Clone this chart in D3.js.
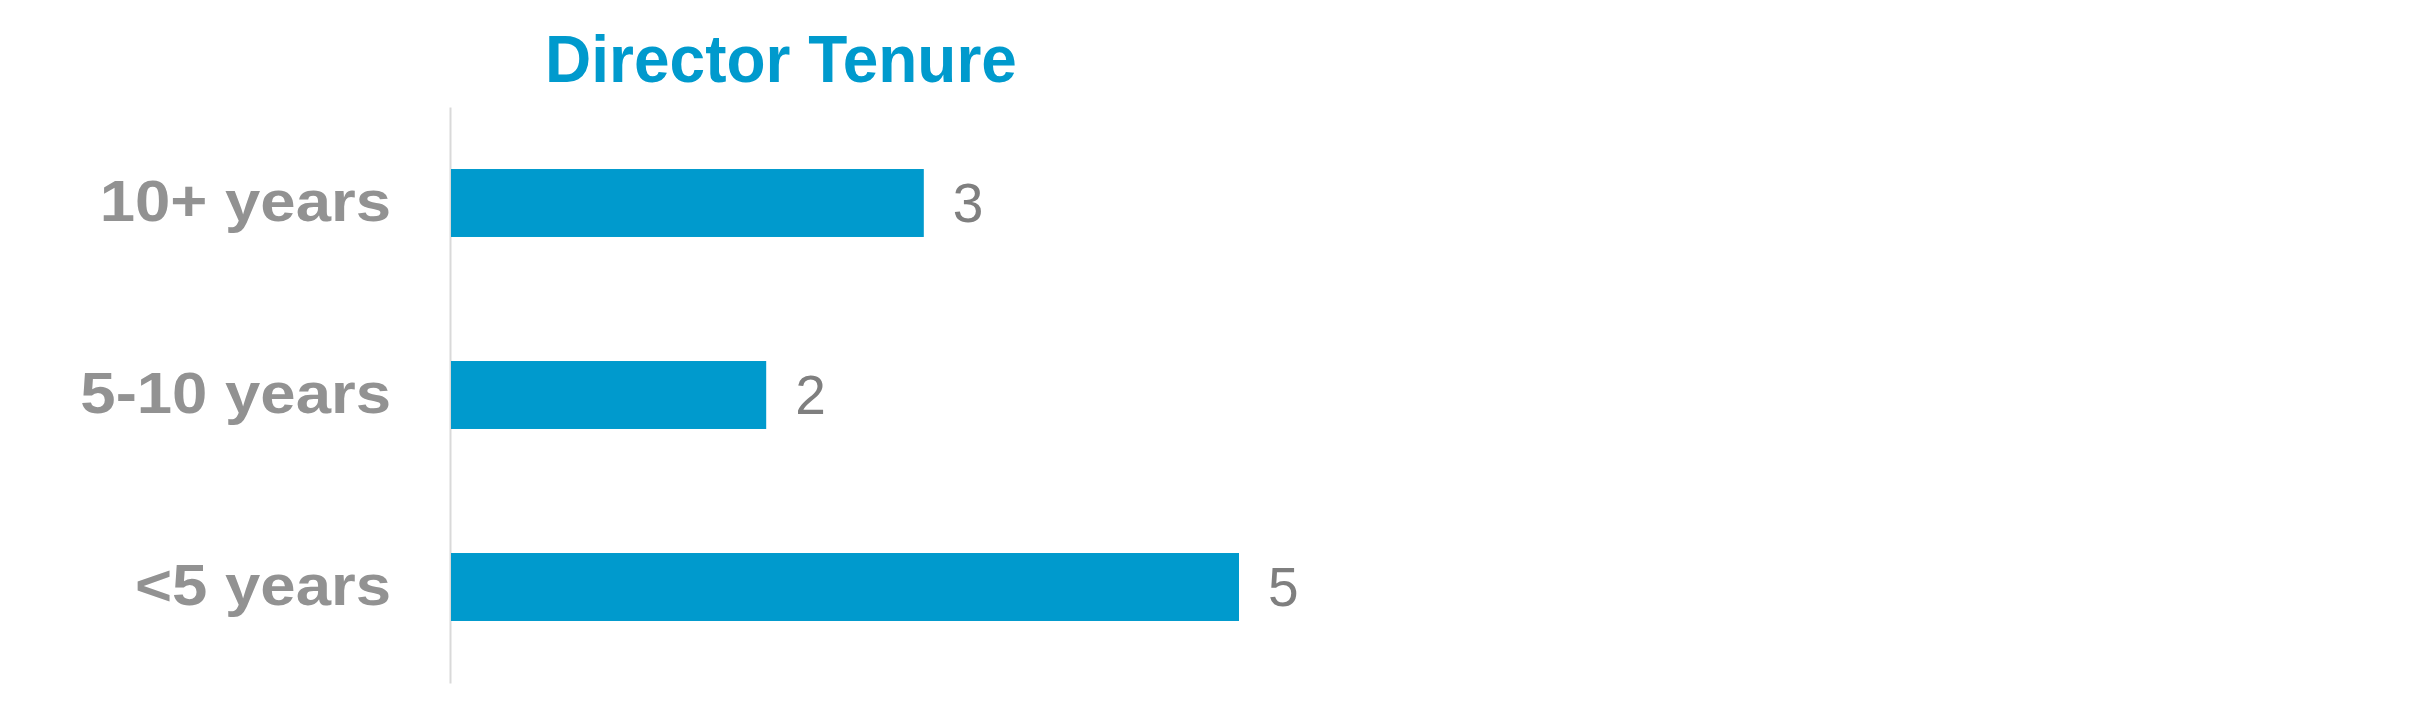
<!DOCTYPE html>
<html>
<head>
<meta charset="utf-8">
<script src="https://cdn.jsdelivr.net/npm/d3@7"></script>
<style>
  html, body { margin: 0; padding: 0; background: #fff; }
  svg { display: block; font-family: "Liberation Sans", Arial, sans-serif; }
</style>
</head>
<body>
<div id="chart"></div>
<script>
// chart data
var categories = ["10+ years", "5-10 years", "<5 years"];
var values = [3, 2, 5];
var title = "Director Tenure";

var svgWidth = 2421;
var svgHeight = 704;

var blue = "#009acd";

var svg = d3.select("#chart")
  .append("svg")
  .attr("width", svgWidth)
  .attr("height", svgHeight);

var rows = categories.map(function(c, i) {
  return { cat: c, value: values[i] };
});

// scales
var yBand = d3.scaleBand()
  .domain(categories)
  .range([107, 683])
  .paddingInner(0.646)
  .paddingOuter(0.323);

var xLinear = d3.scaleLinear()
  .domain([0, 5])
  .range([451, 1239]);

// left axis: light vertical line + bold category labels
var leftAxis = d3.axisLeft(yBand)
  .tickSizeInner(0)
  .tickSizeOuter(0)
  .tickPadding(59);

var axisG = svg.append("g")
  .attr("transform", "translate(450, 0)")
  .call(leftAxis);

axisG.select(".domain")
  .attr("stroke", "#d9d9d9")
  .attr("stroke-width", 2);

axisG.selectAll(".tick text")
  .attr("x", null)
  .attr("dy", null)
  .attr("transform", "translate(-59, 18) scale(1.095, 1)")
  .attr("text-anchor", "end")
  .attr("fill", "#929292")
  .style("font-family", "'Liberation Sans', Arial, sans-serif")
  .style("font-size", "58px")
  .style("font-weight", "bold");

// bars
svg.selectAll("rect.bar")
  .data(rows)
  .enter()
  .append("rect")
  .attr("class", "bar")
  .attr("x", xLinear(0))
  .attr("y", d => yBand(d.cat))
  .attr("width", d => xLinear(d.value) - xLinear(0))
  .attr("height", yBand.bandwidth())
  .attr("fill", blue);

// value labels
svg.selectAll("text.value")
  .data(rows)
  .enter()
  .append("text")
  .attr("class", "value")
  .attr("x", d => xLinear(d.value) + 29)
  .attr("y", d => yBand(d.cat) + yBand.bandwidth() / 2 + 19)
  .attr("fill", "#7f7f7f")
  .style("font-size", "55px")
  .text(d => d.value);

// title
svg.append("text")
  .attr("transform", "translate(781, 82) scale(0.97, 1)")
  .attr("text-anchor", "middle")
  .attr("fill", blue)
  .style("font-size", "66px")
  .style("font-weight", "bold")
  .text(title);
</script>
</body>
</html>
